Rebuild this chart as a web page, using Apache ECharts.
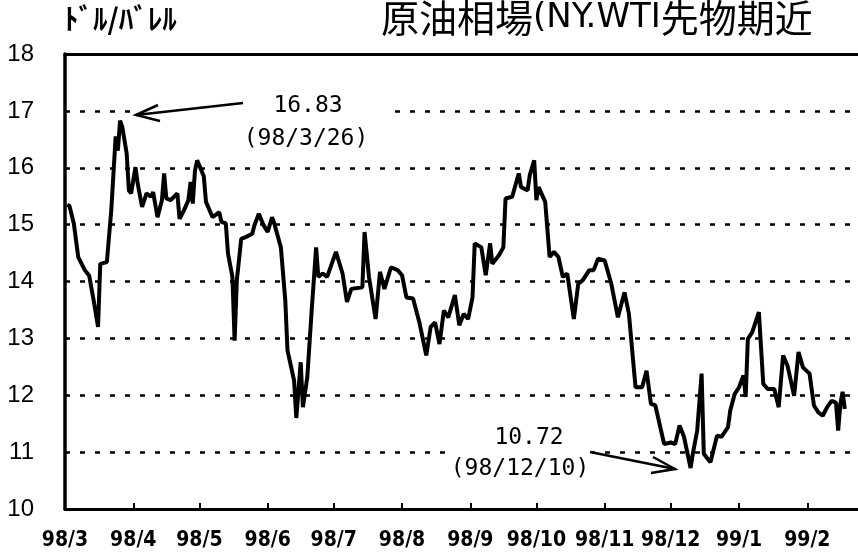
<!DOCTYPE html>
<html>
<head>
<meta charset="utf-8">
<script src="https://cdn.jsdelivr.net/npm/echarts@6/dist/echarts.min.js"></script>
<style>
  body{margin:0;background:#fff;}
  #chart{width:858px;height:553px;}
</style>
</head>
<body>
<div id="chart"></div>
<script>
// 原油相場 NY.WTI 先物期近 (ドル/バレル)
let dates = [
  '1998-03-02','1998-03-03','1998-03-05','1998-03-07','1998-03-10','1998-03-12','1998-03-14','1998-03-16','1998-03-17','1998-03-20',
  '1998-03-22','1998-03-23','1998-03-24','1998-03-25','1998-03-26','1998-03-27','1998-03-29','1998-03-30','1998-03-31','1998-04-02',
  '1998-04-03','1998-04-05','1998-04-07','1998-04-09','1998-04-10','1998-04-12','1998-04-14','1998-04-15','1998-04-16','1998-04-18',
  '1998-04-21','1998-04-22','1998-04-24','1998-04-26','1998-04-27','1998-04-28','1998-04-29','1998-04-30','1998-05-01','1998-05-03',
  '1998-05-04','1998-05-07','1998-05-10','1998-05-11','1998-05-13','1998-05-14','1998-05-16','1998-05-17','1998-05-18','1998-05-20',
  '1998-05-22','1998-05-25','1998-05-26','1998-05-28','1998-05-30','1998-06-01','1998-06-03','1998-06-04','1998-06-07','1998-06-09',
  '1998-06-10','1998-06-13','1998-06-14','1998-06-16','1998-06-17','1998-06-19','1998-06-21','1998-06-23','1998-06-24','1998-06-26',
  '1998-06-28','1998-07-02','1998-07-05','1998-07-07','1998-07-09','1998-07-14','1998-07-15','1998-07-17','1998-07-20','1998-07-22',
  '1998-07-24','1998-07-27','1998-07-30','1998-08-01','1998-08-03','1998-08-06','1998-08-09','1998-08-12','1998-08-14','1998-08-16',
  '1998-08-18','1998-08-20','1998-08-22','1998-08-25','1998-08-27','1998-08-29','1998-08-31','1998-09-02','1998-09-03','1998-09-06',
  '1998-09-08','1998-09-10','1998-09-11','1998-09-14','1998-09-16','1998-09-17','1998-09-20','1998-09-23','1998-09-24','1998-09-27',
  '1998-09-28','1998-09-30','1998-10-01','1998-10-02','1998-10-05','1998-10-07','1998-10-09','1998-10-11','1998-10-13','1998-10-15',
  '1998-10-18','1998-10-20','1998-10-22','1998-10-25','1998-10-27','1998-10-29','1998-11-01','1998-11-04','1998-11-07','1998-11-10',
  '1998-11-12','1998-11-15','1998-11-18','1998-11-20','1998-11-22','1998-11-24','1998-11-28','1998-12-01','1998-12-03','1998-12-05',
  '1998-12-07','1998-12-10','1998-12-11','1998-12-13','1998-12-15','1998-12-16','1998-12-19','1998-12-22','1998-12-24','1998-12-27',
  '1998-12-28','1998-12-30','1999-01-01','1999-01-03','1999-01-04','1999-01-05','1999-01-07','1999-01-10','1999-01-12','1999-01-14',
  '1999-01-17','1999-01-19','1999-01-21','1999-01-23','1999-01-26','1999-01-28','1999-01-30','1999-02-02','1999-02-04','1999-02-06',
  '1999-02-08','1999-02-10','1999-02-12','1999-02-14','1999-02-15','1999-02-16','1999-02-17','1999-02-18'
]
let prices = [
  15.35,15.33,15.02,14.43,14.2,14.1,13.67,13.2,14.31,14.34,
  15.25,15.9,16.55,16.3,16.83,16.72,16.25,15.6,15.55,16.01,
  15.72,15.31,15.55,15.49,15.57,15.13,15.43,15.9,15.46,15.43,
  15.55,15.1,15.25,15.43,15.75,15.37,15.95,16.13,16.04,15.85,
  15.4,15.13,15.22,15.05,15.02,14.49,14.08,12.96,14.02,14.75,
  14.78,14.84,14.99,15.19,15.0,14.87,15.13,15.02,14.6,13.67,
  12.79,12.26,11.6,12.58,11.79,12.32,13.5,14.6,14.08,14.14,
  14.08,14.52,14.14,13.64,13.87,13.9,14.87,14.08,13.34,14.17,
  13.87,14.25,14.2,14.11,13.72,13.7,13.26,12.7,13.2,13.28,
  12.9,13.49,13.37,13.76,13.23,13.43,13.34,13.72,14.67,14.6,
  14.11,14.67,14.31,14.46,14.6,15.46,15.49,15.9,15.66,15.6,
  15.87,16.13,15.43,15.66,15.4,14.43,14.52,14.43,14.08,14.14,
  13.34,13.96,14.02,14.2,14.2,14.4,14.37,13.96,13.37,13.81,
  13.43,12.14,12.14,12.43,11.85,11.82,11.14,11.17,11.14,11.47,
  11.27,10.72,10.97,11.38,12.38,10.97,10.82,11.29,11.27,11.44,
  11.73,12.02,12.14,12.35,11.97,12.99,13.11,13.46,12.2,12.11,
  12.11,11.79,12.7,12.52,11.99,12.76,12.49,12.38,11.82,11.7,
  11.64,11.79,11.9,11.87,11.38,11.85,12.06,11.76
]
let tickDates = ['1998-03-01','1998-04-01','1998-05-01','1998-06-01','1998-07-01','1998-08-01',
                 '1998-09-01','1998-10-01','1998-11-01','1998-12-01','1999-01-01','1999-02-01']
let tickLabels = ['98/3','98/4','98/5','98/6','98/7','98/8','98/9','98/10','98/11','98/12','99/1','99/2']
let startDate = '1998-03-01'
let endDate = '1999-02-24'

// 日付 → 1998/3/1 からの日数
function toDay(s) {
  let p = s.split('-')
  let t = Date.UTC(+p[0], +p[1] - 1, +p[2])
  let q = startDate.split('-')
  return Math.round((t - Date.UTC(+q[0], +q[1] - 1, +q[2])) / 86400000)
}
let tickValues = tickDates.map(toDay)

let option = {
  animation: false,
  title: {
    text: '{a|原油相場}{b|(NY.WTI}{a|先物期近}',
    left: 376,
    top: -9,
    textStyle: {
      color: '#000',
      rich: {
        a: {fontFamily: 'Noto Sans CJK JP', fontSize: 38, lineHeight: 44, fontWeight: 'normal', color: '#000'},
        b: {fontFamily: 'DejaVu Sans', fontSize: 34, lineHeight: 44, fontWeight: 'normal', color: '#000'}
      }
    }
  },
  grid: {left: 65, right: 0, top: 54, bottom: 44},
  xAxis: [
    {
      type: 'value',
      min: 0,
      max: toDay(endDate),
      axisLine: {onZero: false, lineStyle: {color: '#000', width: 3}},
      axisTick: {inside: true, length: 6, customValues: tickValues, lineStyle: {color: '#000', width: 2}},
      axisLabel: {
        customValues: tickValues,
        formatter: (v) => {
          let i = tickValues.indexOf(v)
          return i >= 0 ? tickLabels[i] : ''
        },
        color: '#000',
        fontFamily: 'Liberation Sans Narrow, DejaVu Sans Condensed, sans-serif',
        fontWeight: 'bold',
        fontSize: 21,
        margin: 21
      },
      splitLine: {show: false}
    },
    {
      // 上枠
      type: 'value',
      position: 'top',
      min: 0,
      max: 1,
      axisLine: {show: true, onZero: false, lineStyle: {color: '#000', width: 3}},
      axisTick: {show: false},
      axisLabel: {show: false},
      splitLine: {show: false}
    }
  ],
  yAxis: {
    type: 'value',
    min: 10,
    max: 18,
    interval: 1,
    axisLine: {show: true, onZero: false, lineStyle: {color: '#000', width: 3.5}},
    axisTick: {show: false},
    axisLabel: {color: '#000', fontFamily: 'Liberation Sans', fontSize: 24, margin: 31},
    splitLine: {lineStyle: {color: '#000', width: 2.5, type: [5, 10]}}
  },
  series: [
    {
      type: 'line',
      xAxisIndex: 0,
      data: dates.map((d, i) => [toDay(d), prices[i]]),
      showSymbol: false,
      lineStyle: {color: '#000', width: 4},
      z: 5
    }
  ],
  graphic: [
    {type: 'text', left: 64, top: 4, z: 100,
     style: {text: 'ﾄﾞﾙ/ﾊﾞﾚﾙ', fill: '#000', fontSize: 29, fontWeight: 'bold', fontFamily: 'Noto Sans CJK JP'}},
    // 注記の背景
    {type: 'rect', z: 90, shape: {x: 137, y: 103, width: 255, height: 15}, style: {fill: '#fff'}},
    {type: 'rect', z: 90, shape: {x: 446, y: 446, width: 146, height: 12}, style: {fill: '#fff'}},
    {type: 'polyline', z: 100, shape: {points: [[243, 103], [136, 115]]}, style: {stroke: '#000', lineWidth: 2.5, fill: null}},
    {type: 'polyline', z: 100, shape: {points: [[158, 105], [136, 115], [160, 121]]}, style: {stroke: '#000', lineWidth: 2.5, fill: null}},
    {type: 'polyline', z: 100, shape: {points: [[590, 452], [675, 469]]}, style: {stroke: '#000', lineWidth: 2.5, fill: null}},
    {type: 'polyline', z: 100, shape: {points: [[653, 457], [675, 469], [651, 473]]}, style: {stroke: '#000', lineWidth: 2.5, fill: null}},
    {type: 'text', z: 100, style: {text: '16.83', x: 308, y: 106, align: 'center', verticalAlign: 'middle', fill: '#000', fontSize: 23, fontFamily: 'DejaVu Sans Mono'}},
    {type: 'text', z: 100, style: {text: '(98/3/26)', x: 306, y: 139, align: 'center', verticalAlign: 'middle', fill: '#000', fontSize: 23, fontFamily: 'DejaVu Sans Mono'}},
    {type: 'text', z: 100, style: {text: '10.72', x: 529, y: 438, align: 'center', verticalAlign: 'middle', fill: '#000', fontSize: 23, fontFamily: 'DejaVu Sans Mono'}},
    {type: 'text', z: 100, style: {text: '(98/12/10)', x: 520, y: 469, align: 'center', verticalAlign: 'middle', fill: '#000', fontSize: 23, fontFamily: 'DejaVu Sans Mono'}}
  ]
}

let myChart = echarts.init(document.getElementById('chart'))
myChart.setOption(option)
</script>
</body>
</html>
